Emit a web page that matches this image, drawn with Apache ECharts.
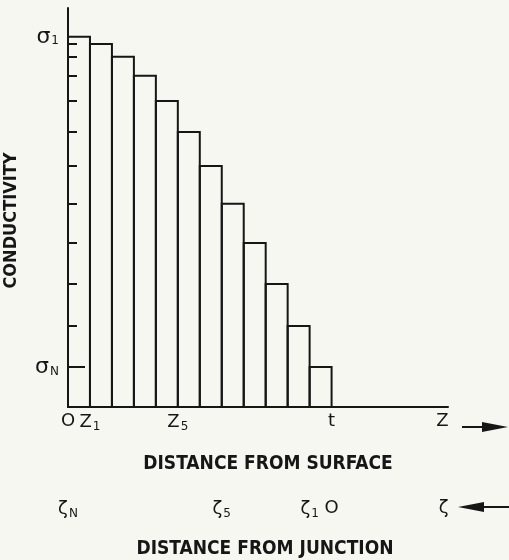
<!DOCTYPE html>
<html>
<head>
<meta charset="utf-8">
<script src="https://cdn.jsdelivr.net/npm/echarts@6/dist/echarts.min.js"></script>
<style>
  html, body { margin: 0; padding: 0; background: #f7f7f2; }
  #chart { width: 509px; height: 560px; }
</style>
</head>
<body>
<div id="chart"></div>
<script>
// Step profile of conductivity through a diffused layer (sigma_1 at the surface)
const layerIndex   = [0, 1, 2, 3, 4, 5, 6, 7, 8, 9, 10, 11];
const conductivity = [100, 98.1, 94.6, 89.5, 82.7, 74.3, 65.1, 54.9, 44.3, 33.2, 21.9, 10.8];

// Tick labels along the surface coordinate z and the junction coordinate zeta
const surfaceTickValues  = [0, 1, 5, 12, 17.05];
const surfaceTickLabels  = ['{m|O}', '{m|Z}{s|1}', '{m|Z}{s|5}', '{m|t}', '{m|Z}'];
const junctionTickValues = [12, 5, 1, 0, -5.1];
const junctionTickLabels = ['{m|ζ}{s|N}', '{m|ζ}{s|5}', '{m|ζ}{s|1}', '{m|O}', '{m|ζ}'];
const sigmaLabelValues   = [100, 10.8];
const sigmaLabels        = ['{g|σ}{s|1}', '{g|σ}{s|N}'];

const INK = '#161616';
const titleFont = '"Liberation Sans Narrow", "DejaVu Sans Condensed", sans-serif';
const richSub = {
  m: { fontSize: 18, color: INK, fontFamily: 'DejaVu Sans' },
  g: { fontSize: 22, color: INK, fontFamily: 'DejaVu Sans' },
  s: { fontSize: 12, color: INK, fontFamily: 'DejaVu Sans', padding: [9, 0, 0, 1] }
};

function labelFor(values, labels) {
  return function (v) {
    for (let i = 0; i < values.length; i++) {
      if (Math.abs(values[i] - v) < 1e-6) return labels[i];
    }
    return '';
  };
}

const chart = echarts.init(document.getElementById('chart'));
chart.setOption({
  backgroundColor: '#f7f7f2',
  animation: false,
  grid: { left: 68, right: 61, top: 8, bottom: 153, outerBoundsMode: 'none', containLabel: false },
  xAxis: [
    {
      type: 'value', min: 0, max: 17.3,
      splitLine: { show: false },
      axisLine: { lineStyle: { color: INK, width: 2 } },
      axisTick: { show: false },
      axisLabel: {
        customValues: surfaceTickValues,
        formatter: labelFor(surfaceTickValues, surfaceTickLabels),
        rich: richSub, margin: 5
      },
      name: 'DISTANCE FROM SURFACE',
      nameLocation: 'middle', nameGap: 48,
      nameTextStyle: { fontFamily: titleFont, fontWeight: 'bold', fontSize: 19, color: INK, padding: [0, 0, 0, 20] }
    },
    {
      type: 'value', min: -5.3, max: 12, inverse: true,
      position: 'bottom', offset: 87,
      splitLine: { show: false },
      axisLine: { show: false },
      axisTick: { show: false },
      axisLabel: {
        customValues: junctionTickValues,
        formatter: labelFor(junctionTickValues, junctionTickLabels),
        rich: richSub, margin: 5
      },
      name: 'DISTANCE FROM JUNCTION',
      nameLocation: 'middle', nameGap: 46,
      nameTextStyle: { fontFamily: titleFont, fontWeight: 'bold', fontSize: 19, color: INK, padding: [0, 0, 0, 14] }
    }
  ],
  yAxis: {
    type: 'value', min: 0, max: 107.8,
    splitLine: { show: false },
    axisLine: { lineStyle: { color: INK, width: 2 } },
    axisTick: {
      inside: true, length: 9,
      customValues: conductivity.slice(1),
      lineStyle: { color: INK, width: 2 }
    },
    axisLabel: {
      customValues: sigmaLabelValues,
      formatter: labelFor(sigmaLabelValues, sigmaLabels),
      rich: richSub, margin: 9
    },
    name: 'CONDUCTIVITY',
    nameLocation: 'middle', nameRotate: 90, nameGap: 48,
    nameTextStyle: { fontFamily: titleFont, fontWeight: 'bold', fontSize: 18, color: INK, padding: [0, 26, 0, 0] }
  },
  series: [
    {
      type: 'custom',
      xAxisIndex: 0, yAxisIndex: 0,
      data: layerIndex.map((k, i) => [k, conductivity[i]]),
      renderItem: function (params, api) {
        const k = api.value(0);
        const base = api.coord([k, 0]);
        const top = api.coord([k + 1, api.value(1)]);
        return {
          type: 'rect',
          shape: { x: base[0], y: top[1], width: top[0] - base[0], height: base[1] - top[1] },
          style: { fill: 'none', stroke: INK, lineWidth: 2 }
        };
      }
    },
    {
      // longer tick marking the deepest layer level sigma_N
      type: 'custom',
      xAxisIndex: 0, yAxisIndex: 0,
      data: [[0, conductivity[conductivity.length - 1]]],
      renderItem: function (params, api) {
        const p = api.coord([api.value(0), api.value(1)]);
        return {
          type: 'line',
          shape: { x1: p[0], y1: p[1], x2: p[0] + 17, y2: p[1] },
          style: { stroke: INK, lineWidth: 2 }
        };
      }
    }
  ],
  graphic: [
    // direction arrows for z (to the right) and zeta (to the left)
    { type: 'line', shape: { x1: 462, y1: 427, x2: 488, y2: 427 }, style: { stroke: INK, lineWidth: 2 } },
    { type: 'polygon', shape: { points: [[482, 422], [508, 427], [482, 432]] }, style: { fill: INK } },
    { type: 'line', shape: { x1: 478, y1: 507, x2: 509, y2: 507 }, style: { stroke: INK, lineWidth: 2 } },
    { type: 'polygon', shape: { points: [[484, 502], [458, 507], [484, 512]] }, style: { fill: INK } }
  ]
});
</script>
</body>
</html>
